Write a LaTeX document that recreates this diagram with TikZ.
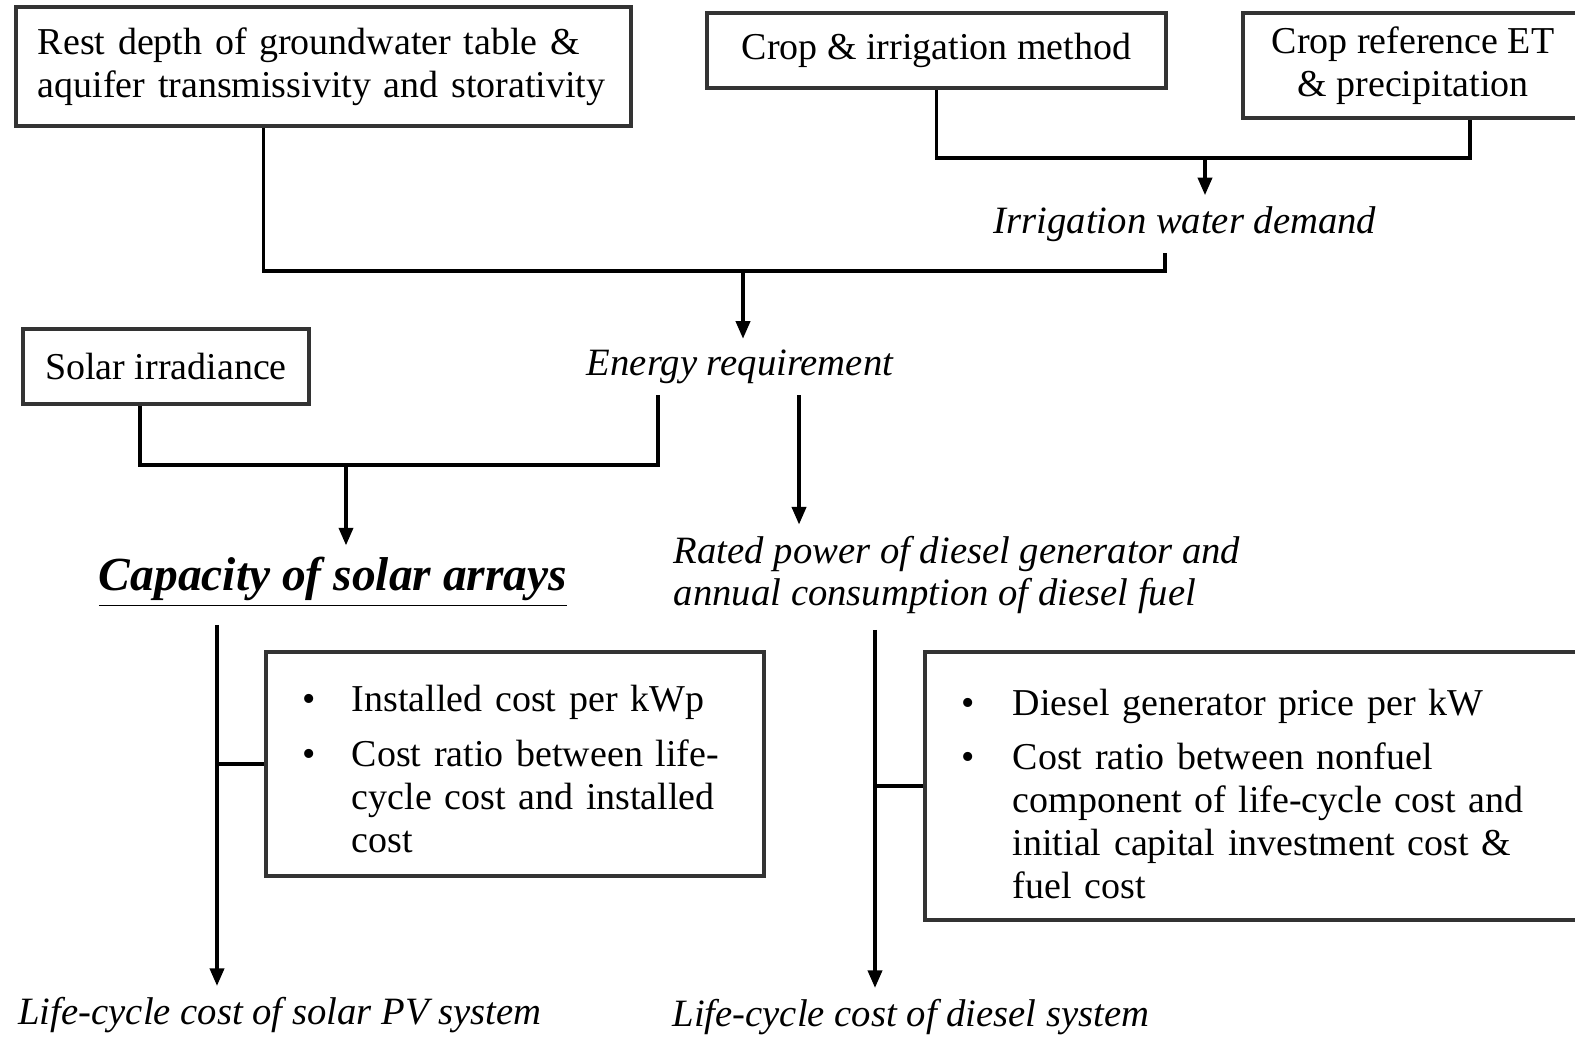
\documentclass[tikz,border=0pt]{standalone}
\usepackage{fontspec}
\setmainfont{Liberation Serif}
\usepackage{tikz}
\usetikzlibrary{calc, positioning, arrows.meta}

\begin{document}
\begin{tikzpicture}[
  x=0.01cm, y=-0.01cm,
  bx/.style={draw=black!80, line width=1.1pt, inner sep=0pt, align=center,
             font=\fontsize{10.8}{12.2}\selectfont},
  lbl/.style={inner sep=3pt, align=center, font=\fontsize{11}{12.2}\selectfont\itshape},
  ln/.style={line width=1pt},
  ar/.style={line width=1pt, -{Triangle[width=4pt,length=5pt]}},
]
\clip (0,0) rectangle (1575,1037);

% inputs
\node[bx, minimum width=6.15cm, minimum height=1.19cm, text width=5.71cm, align=left] (rest) at (323.5,66.5) {
  Rest depth of groundwater table \&\\
  aquifer transmissivity and storativity\\[4pt]
};
\node[bx, minimum width=4.59cm, minimum height=0.75cm] (cropirr) at (936.5,50.5) {Crop \& irrigation method};
\node[bx, minimum width=3.40cm, minimum height=1.05cm] (cropet) at (1413,65.5) {
  Crop reference ET\\
  \& precipitation
};
\node[bx, minimum width=2.86cm, minimum height=0.75cm] (solar) at (166,366.5) {Solar irradiance};

% intermediate results
\node[lbl] (irrdem) at (1185,224) {Irrigation water demand};
\node[lbl] (energy) at (740,367) {Energy requirement};
\node[lbl, align=left] (rated) at (957,575) {
  Rated power of diesel generator and\\
  annual consumption of diesel fuel
};
\node[lbl, font=\fontsize{13.5}{15}\selectfont\bfseries\itshape] (capacity) at (333,582) {\underline{Capacity of solar arrays}};

% cost parameters
\node[bx, minimum width=4.98cm, minimum height=2.24cm, inner xsep=0.37cm, text width=4.24cm, align=left] (pvbox) at (515,764) {
  \vspace*{4.5pt}
  \begin{tabular}{@{}p{0.49cm}@{}p{3.75cm}@{}}
    \textbullet & Installed cost per kWp\\[3.4pt]
    \textbullet & Cost ratio between life-\newline cycle cost and installed\newline cost
  \end{tabular}
};
\node[bx, minimum width=6.70cm, minimum height=2.68cm, inner xsep=0.37cm, text width=5.96cm, align=left] (dslbox) at (1260,786) {
  \vspace*{6pt}
  \begin{tabular}{@{}p{0.51cm}@{}p{5.45cm}@{}}
    \textbullet & Diesel generator price per kW\\[3.4pt]
    \textbullet & Cost ratio between nonfuel\newline component of life-cycle cost and\newline initial capital investment cost \&\newline fuel cost
  \end{tabular}
};

% outputs
\node[lbl] (pvcost) at (280,1015) {Life-cycle cost of solar PV system};
\node[lbl] (dslcost) at (911,1017) {Life-cycle cost of diesel system};

% connectors
\coordinate (j1) at (1205,158);
\coordinate (j2) at (743,271);
\coordinate (j3) at (346,465);
\coordinate (pvtop) at (217,625);
\coordinate (dsltop) at (875,630);

\draw[ln] (cropirr.south) |- (j1) -| ([xshift=0.57cm]cropet.south);
\draw[ar] (j1) -- (j1 |- irrdem.north);
\draw[ln] ([xshift=-0.6cm]rest.south) |- (j2) -| ([xshift=-0.2cm]irrdem.south);
\draw[ar] (j2) -- (j2 |- energy.north);
\draw[ln] ([xshift=-0.26cm]solar.south) |- (j3) -| ([xshift=-0.82cm]energy.south);
\draw[ar] (j3) -- (j3 |- capacity.north);
\draw[ar] ([xshift=0.59cm]energy.south) -- ([xshift=0.59cm]energy.south |- rated.north);

\draw[ar] (pvtop) -- (pvtop |- pvcost.north);
\draw[ln] (pvtop |- pvbox.west) -- (pvbox.west);
\draw[ar] (dsltop) -- (dsltop |- dslcost.north);
\draw[ln] (dsltop |- dslbox.west) -- (dslbox.west);

\end{tikzpicture}
\end{document}
